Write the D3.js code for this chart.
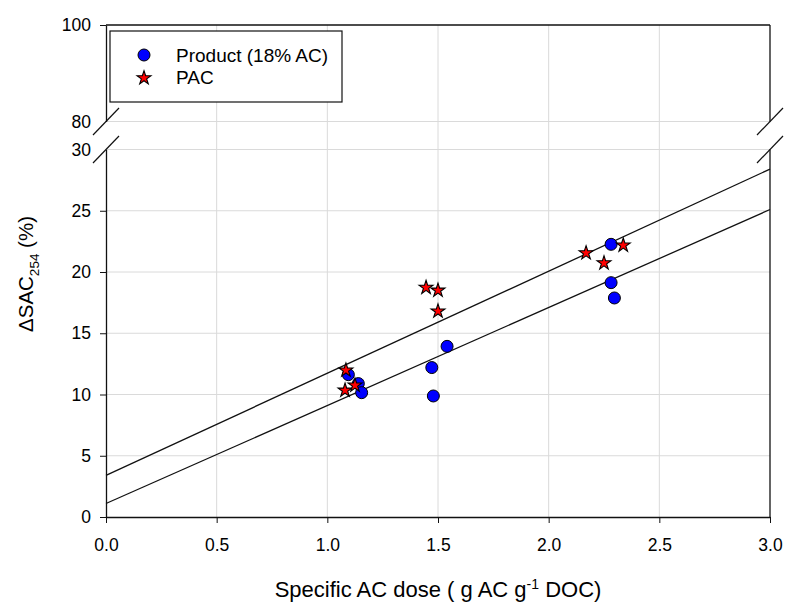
<!DOCTYPE html>
<html>
<head>
<meta charset="utf-8">
<script src="https://cdn.jsdelivr.net/npm/d3@7"></script>
<style>
  body { margin: 0; background: white; }
  text { font-family: Arial, 'Liberation Sans', sans-serif; fill: #000; }
</style>
</head>
<body>
<svg id="chart" width="785" height="602"></svg>
<script>
// data
const productX = [1.095, 1.14, 1.155, 1.472, 1.479, 1.541, 2.282, 2.282, 2.297]
const productY = [11.62, 10.89, 10.15, 12.2, 9.88, 13.93, 22.26, 19.13, 17.88]
const pacX = [1.084, 1.08, 1.125, 1.446, 1.5, 1.5, 2.169, 2.25, 2.337]
const pacY = [11.98, 10.34, 10.75, 18.73, 18.5, 16.8, 21.55, 20.73, 22.18]
const fitX = [0, 3]
const fitPac = [3.4, 28.4]
const fitProduct = [1.1, 25.1]
const xTicks = [0, 0.5, 1, 1.5, 2, 2.5, 3]
const yTicksLow = [0, 5, 10, 15, 20, 25, 30]
const yTicksHigh = [80, 100]
const seriesNames = ['Product (18% AC)', 'PAC']

const margin = { top: 25, left: 106, right: 15, bottom: 85 }
const width = 785 - margin.left - margin.right
const height = 602 - margin.top - margin.bottom
const breakTop = 96.5 // y of 80 inside plot
const breakBottom = 124.5 // y of 30 inside plot

const svg = d3.select('#chart')
const g = svg
  .append('g')
  .attr('transform', 'translate(' + margin.left + ',' + margin.top + ')')

const x = d3.scaleLinear().domain([0, 3]).range([0, width])
const yLow = d3.scaleLinear().domain([0, 30]).range([height, breakBottom])
const yHigh = d3.scaleLinear().domain([80, 100]).range([breakTop, 0])

const gridColor = '#dadada'

// vertical grid
g.selectAll('.vgrid')
  .data(xTicks.filter(d => d > 0 && d < 3))
  .enter()
  .append('line')
  .attr('class', 'vgrid')
  .attr('x1', d => x(d))
  .attr('x2', d => x(d))
  .attr('y1', 0)
  .attr('y2', height)
  .attr('stroke', gridColor)

// horizontal grid
g.selectAll('.hgrid')
  .data(yTicksLow.filter(d => d > 0))
  .enter()
  .append('line')
  .attr('class', 'hgrid')
  .attr('x1', 0)
  .attr('x2', width)
  .attr('y1', d => yLow(d))
  .attr('y2', d => yLow(d))
  .attr('stroke', gridColor)

g.append('line')
  .attr('x1', 0)
  .attr('x2', width)
  .attr('y1', yHigh(80))
  .attr('y2', yHigh(80))
  .attr('stroke', gridColor)

// fitted lines
const line = d3
  .line()
  .x(d => x(d[0]))
  .y(d => yLow(d[1]))

g.append('path')
  .datum(d3.zip(fitX, fitPac))
  .attr('d', line)
  .attr('fill', 'none')
  .attr('stroke', '#111')
  .attr('stroke-width', 1.3)

g.append('path')
  .datum(d3.zip(fitX, fitProduct))
  .attr('d', line)
  .attr('fill', 'none')
  .attr('stroke', '#111')
  .attr('stroke-width', 1.3)

// points
const star = d3.symbol().type(d3.symbolStar).size(60)

g.selectAll('.product')
  .data(d3.zip(productX, productY))
  .enter()
  .append('circle')
  .attr('class', 'product')
  .attr('cx', d => x(d[0]))
  .attr('cy', d => yLow(d[1]))
  .attr('r', 6)
  .attr('fill', '#0000ff')
  .attr('stroke', '#000')
  .attr('stroke-width', 1)

g.selectAll('.pac')
  .data(d3.zip(pacX, pacY))
  .enter()
  .append('path')
  .attr('class', 'pac')
  .attr('d', star)
  .attr('transform', d => 'translate(' + x(d[0]) + ',' + yLow(d[1]) + ')')
  .attr('fill', '#ff0000')
  .attr('stroke', '#000')
  .attr('stroke-width', 1.1)

// axes
const xAxis = d3
  .axisBottom(x)
  .tickValues(xTicks)
  .tickFormat(d3.format('.1f'))
  .tickSize(6)
  .tickSizeOuter(0)
  .tickPadding(16)

const xg = g
  .append('g')
  .attr('transform', 'translate(0,' + height + ')')
  .call(xAxis)

const yAxisLow = d3
  .axisLeft(yLow)
  .tickValues(yTicksLow)
  .tickSize(6)
  .tickSizeOuter(0)
  .tickPadding(9)

const ylg = g.append('g').call(yAxisLow)

const yAxisHigh = d3
  .axisLeft(yHigh)
  .tickValues(yTicksHigh)
  .tickSize(6)
  .tickSizeOuter(0)
  .tickPadding(9)

const yhg = g.append('g').call(yAxisHigh)

// no tick marks at the break values
ylg.selectAll('.tick line').filter(d => d === 30).remove()
yhg.selectAll('.tick line').filter(d => d === 80).remove()

for (const a of [xg, ylg, yhg]) {
  a.selectAll('.domain').attr('stroke', '#111').attr('stroke-width', 1.3)
  a.selectAll('.tick line').attr('stroke', '#111')
  a.selectAll('.tick text')
    .attr('font-size', 17.5)
    .attr('font-family', "Arial, 'Liberation Sans', sans-serif")
    .attr('fill', '#111')
}

// top and right border
g.append('line')
  .attr('x1', 0)
  .attr('x2', width)
  .attr('y1', 0)
  .attr('y2', 0)
  .attr('stroke', '#111')
  .attr('stroke-width', 1.3)

g.append('line')
  .attr('x1', width)
  .attr('x2', width)
  .attr('y1', 0)
  .attr('y2', breakTop)
  .attr('stroke', '#111')
  .attr('stroke-width', 1.3)

g.append('line')
  .attr('x1', width)
  .attr('x2', width)
  .attr('y1', breakBottom)
  .attr('y2', height)
  .attr('stroke', '#111')
  .attr('stroke-width', 1.3)

// break marks
const breaks = []
for (const bx of [0, width]) {
  for (const by of [breakTop, breakBottom]) {
    breaks.push([bx, by])
  }
}
g.selectAll('.brk')
  .data(breaks)
  .enter()
  .append('line')
  .attr('class', 'brk')
  .attr('x1', d => d[0] - 13)
  .attr('y1', d => d[1] + 13.5)
  .attr('x2', d => d[0] + 13)
  .attr('y2', d => d[1] - 13.5)
  .attr('stroke', '#111')
  .attr('stroke-width', 1.2)

// legend
const legend = g.append('g').attr('transform', 'translate(4,6)')

legend
  .append('rect')
  .attr('width', 232)
  .attr('height', 71)
  .attr('fill', 'white')
  .attr('stroke', '#111')
  .attr('stroke-width', 1.2)

legend
  .append('circle')
  .attr('cx', 34)
  .attr('cy', 24)
  .attr('r', 6)
  .attr('fill', '#0000ff')
  .attr('stroke', '#000')

legend
  .append('path')
  .attr('d', star)
  .attr('transform', 'translate(34,47)')
  .attr('fill', '#ff0000')
  .attr('stroke', '#000')
  .attr('stroke-width', 1.1)

legend
  .selectAll('.ltext')
  .data(seriesNames)
  .enter()
  .append('text')
  .attr('class', 'ltext')
  .attr('x', 66)
  .attr('y', (d, i) => 31 + i * 22)
  .attr('font-size', 19)
  .text(d => d)

// axis titles
const xTitle = svg
  .append('text')
  .attr('x', margin.left + width / 2)
  .attr('y', 597)
  .attr('text-anchor', 'middle')
  .attr('font-size', 22)

xTitle.append('tspan').text('Specific AC dose ( g AC g')
xTitle
  .append('tspan')
  .attr('dy', -8)
  .attr('font-size', 14)
  .text('-1')
xTitle
  .append('tspan')
  .attr('dy', 8)
  .text(' DOC)')

const yTitle = svg
  .append('text')
  .attr('transform', 'translate(33,274) rotate(-90)')
  .attr('text-anchor', 'middle')
  .attr('font-size', 20.5)

yTitle.append('tspan').text('\u0394SAC')
yTitle
  .append('tspan')
  .attr('dy', 6)
  .attr('font-size', 13.5)
  .text('254')
yTitle
  .append('tspan')
  .attr('dy', -6)
  .text(' (%)')
</script>
</body>
</html>
